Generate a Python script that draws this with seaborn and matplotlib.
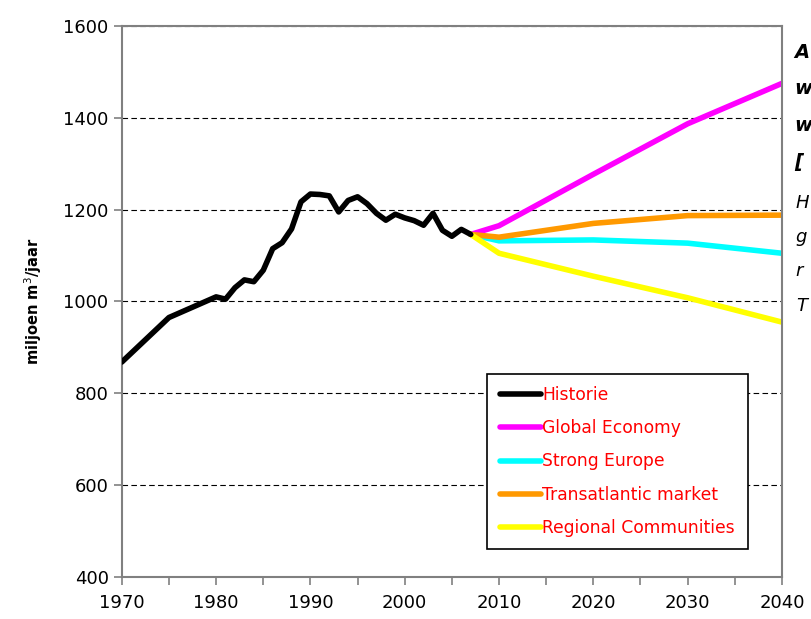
import pandas as pd
import matplotlib
matplotlib.use('Agg')
import matplotlib.pyplot as plt
import seaborn as sns

# Historic data
hist_years = [1970, 1975, 1980, 1981, 1982, 1983, 1984, 1985, 1986, 1987, 1988,
              1989, 1990, 1991, 1992, 1993, 1994, 1995, 1996, 1997, 1998, 1999,
              2000, 2001, 2002, 2003, 2004, 2005, 2006, 2007]
hist_values = [868, 965, 1010, 1005, 1030, 1047, 1043, 1068, 1115, 1128, 1158,
               1217, 1234, 1233, 1230, 1195, 1220, 1228, 1213, 1192, 1177, 1190,
               1182, 1176, 1166, 1192, 1155, 1142, 1157, 1146]

# Scenarios
scen_years = [2007, 2010, 2020, 2030, 2040]
global_economy = [1146, 1165, 1277, 1387, 1475]
strong_europe = [1146, 1132, 1134, 1127, 1105]
transatlantic = [1146, 1140, 1170, 1187, 1188]
regional = [1146, 1105, 1055, 1008, 955]

series_names = ['Historie', 'Global Economy', 'Strong Europe',
                'Transatlantic market', 'Regional Communities']
colors = ['black', '#ff00ff', '#00ffff', '#ff9900', '#ffff00']

x_ticks = [1970, 1980, 1990, 2000, 2010, 2020, 2030, 2040]
y_ticks = [400, 600, 800, 1000, 1200, 1400, 1600]

# Build long-form dataframe
frames = [pd.DataFrame({'jaar': hist_years, 'waarde': hist_values, 'serie': series_names[0]})]
for name, vals in zip(series_names[1:], [global_economy, strong_europe, transatlantic, regional]):
    frames.append(pd.DataFrame({'jaar': scen_years, 'waarde': vals, 'serie': name}))
df = pd.concat(frames, ignore_index=True)

sns.set_style('white')
plt.rcParams['font.family'] = ['DejaVu Sans']

fig = plt.figure(figsize=(8.12, 6.19), dpi=100)
ax = fig.add_axes([0.150, 0.068, 0.813, 0.890])

# draw scenarios first so historic line sits on top at the junction
order = series_names[1:] + series_names[:1]
for name in order:
    sub = df[df['serie'] == name]
    sns.lineplot(data=sub, x='jaar', y='waarde', color=colors[series_names.index(name)],
                 linewidth=4, ax=ax, label=name, zorder=3 if name == 'Historie' else 2)

ax.set_xlim(1970, 2040)
ax.set_ylim(400, 1600)
ax.set_xticks(x_ticks)
ax.set_xticks(range(1975, 2040, 10), minor=True)
ax.set_yticks(y_ticks)
ax.tick_params(axis='both', which='both', direction='out', length=6, width=1.2,
               color='#808080', left=True, bottom=True, labelsize=13,
               labelcolor='black')
ax.tick_params(axis='x', pad=6)
ax.grid(axis='y', which='major', linestyle=(0, (5, 3)), color='black', linewidth=0.8)
ax.grid(axis='x', visible=False)
for s in ax.spines.values():
    s.set_color('#808080')
    s.set_linewidth(1.5)

ax.set_xlabel('')
ax.set_ylabel('miljoen m$^3$/jaar', fontsize=10.5, fontweight='bold', labelpad=14,
              color='black')

handles, labels = ax.get_legend_handles_labels()
hmap = dict(zip(labels, handles))
leg = ax.legend([hmap[n] for n in series_names], series_names,
                loc='lower left', bbox_to_anchor=(0.553, 0.05),
                fancybox=False, edgecolor='black', framealpha=1,
                fontsize=12.3, labelspacing=0.88, handlelength=2.4,
                handletextpad=0.1, borderpad=0.75, borderaxespad=0)
leg.get_frame().set_linewidth(1.2)
for t in leg.get_texts():
    t.set_color('red')

# side text at the right edge (cut off in the original)
side_bold = ['A', 'w', 'w', '[']
side_ital = ['H', 'g', 'r', 'T']
ys_bold = [0.915, 0.857, 0.797, 0.738]
ys_ital = [0.672, 0.617, 0.562, 0.506]
for t, y in zip(side_bold, ys_bold):
    fig.text(0.978, y, t, fontsize=14, fontweight='bold', style='italic',
             va='center', color='black')
for t, y in zip(side_ital, ys_ital):
    fig.text(0.980, y, t, fontsize=13, style='italic', va='center', color='black')

plt.savefig('out.png', dpi=100)
